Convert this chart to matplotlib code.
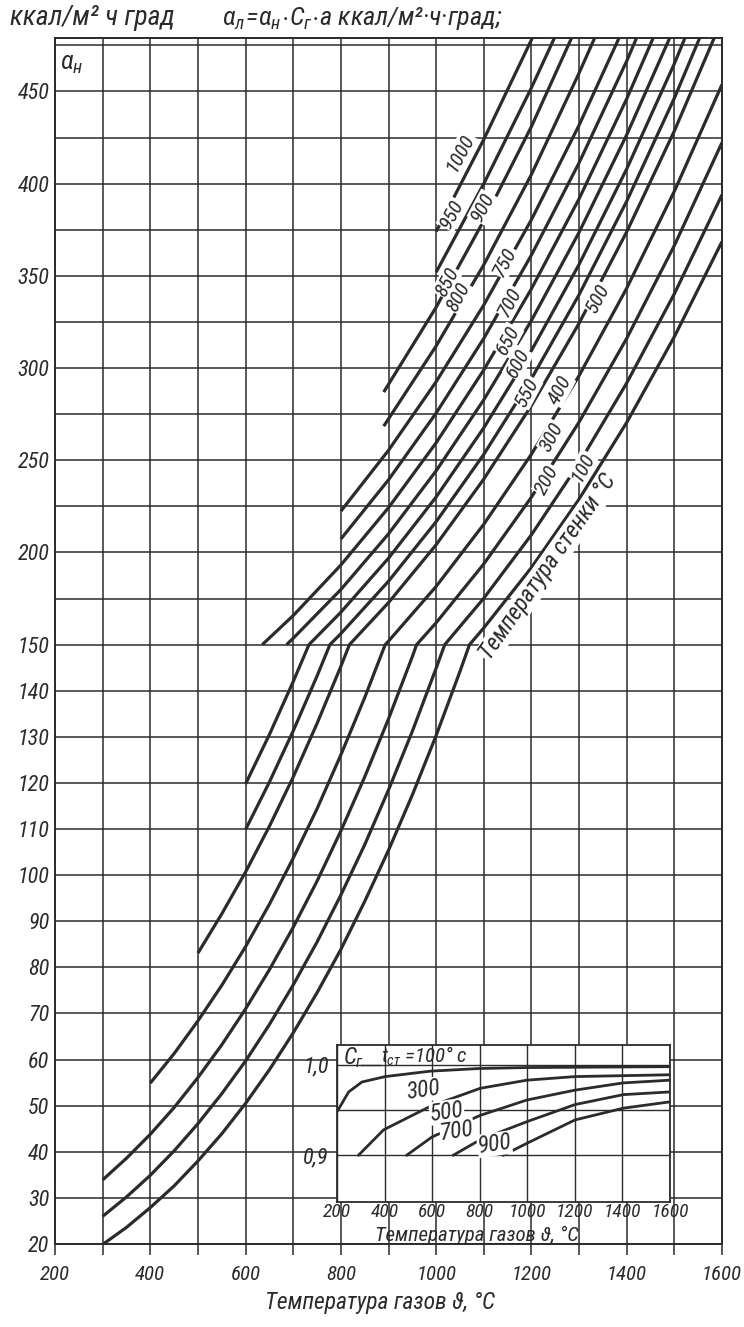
import numpy as np
import matplotlib
matplotlib.use("Agg")
import matplotlib.pyplot as plt
from matplotlib import font_manager

fl = font_manager.fontManager.ttflist
names = {f.name for f in fl}
STRETCH = 'normal'
if 'Liberation Sans Narrow' in names:
    NARROW = 'Liberation Sans Narrow'
elif 'Roboto Condensed' in names:
    NARROW = 'Roboto Condensed'
elif any(f.name == 'DejaVu Sans' and str(f.stretch) in ('condensed', 'semi-condensed') for f in fl):
    NARROW = 'DejaVu Sans'
    STRETCH = 'condensed'
else:
    NARROW = 'DejaVu Sans'
FAM = [NARROW, 'DejaVu Sans']
plt.rcParams['font.family'] = FAM
plt.rcParams['font.style'] = 'italic'
plt.rcParams['font.stretch'] = STRETCH
plt.rcParams['mathtext.fontset'] = 'custom'
plt.rcParams['mathtext.rm'] = NARROW + ':italic'
plt.rcParams['mathtext.it'] = NARROW + ':italic'

# ---------------- data (gas temperature T, alpha_n) per wall temperature ----
T_100 = [300, 350, 400, 450, 500, 550, 600, 650, 700, 750, 800, 850, 900, 950, 1000, 1050, 1070, 1100, 1200, 1300, 1400, 1500, 1600]
A_100 = [19.9, 23.6, 27.9, 32.6, 38.0, 43.9, 50.5, 57.8, 65.8, 74.5, 83.9, 94.3, 105.4, 117.4, 130.3, 144.2, 150.0, 159.1, 191.8, 228.9, 270.5, 317.0, 368.6]
T_200 = [300, 350, 400, 450, 500, 550, 600, 650, 700, 750, 800, 850, 900, 950, 1000, 1018, 1100, 1200, 1300, 1400, 1500, 1600]
A_200 = [26.0, 30.2, 34.9, 40.2, 46.1, 52.6, 59.7, 67.6, 76.2, 85.5, 95.7, 106.6, 118.5, 131.2, 144.9, 150.0, 175.2, 209.6, 248.4, 291.9, 340.3, 394.0]
T_300 = [300, 350, 400, 450, 500, 550, 600, 650, 700, 750, 800, 850, 900, 950, 959, 1000, 1100, 1200, 1300, 1400, 1500, 1600]
A_300 = [33.9, 38.6, 43.8, 49.6, 56.1, 63.2, 71.0, 79.5, 88.7, 98.7, 109.6, 121.3, 133.9, 147.4, 150.0, 161.9, 193.8, 230.0, 270.7, 316.1, 366.5, 422.3]
T_400 = [400, 450, 500, 550, 600, 650, 700, 750, 800, 850, 893, 900, 1000, 1100, 1200, 1300, 1400, 1500, 1600]
A_400 = [54.9, 61.3, 68.4, 76.1, 84.5, 93.7, 103.7, 114.4, 126.1, 138.5, 150.0, 151.9, 181.6, 215.3, 253.3, 295.9, 343.3, 395.9, 453.8]
T_500 = [500, 550, 600, 650, 700, 750, 800, 818, 900, 1000, 1100, 1200, 1300, 1400, 1500, 1600]
A_500 = [83.1, 91.6, 100.7, 110.6, 121.3, 132.9, 145.3, 150.0, 172.8, 204.2, 239.8, 279.7, 324.3, 373.9, 428.6, 488.9]
T_550 = [600, 650, 700, 750, 777, 800, 900, 1000, 1100, 1200, 1300, 1400, 1500, 1600]
A_550 = [109.9, 120.2, 131.3, 143.2, 150.0, 156.0, 184.4, 216.7, 253.2, 294.2, 339.8, 390.5, 446.4, 507.8]
T_600 = [600, 650, 700, 733, 800, 900, 1000, 1100, 1200, 1300, 1400, 1500, 1600]
A_600 = [119.8, 130.5, 142.0, 150.0, 167.6, 196.9, 230.1, 267.6, 309.5, 356.2, 408.0, 465.1, 527.7]
T_650 = [686, 700, 800, 900, 1000, 1100, 1200, 1300, 1400, 1500]
A_650 = [150.0, 153.5, 179.9, 210.1, 244.3, 282.8, 325.8, 373.6, 426.5, 484.7]
T_700 = [635, 700, 800, 900, 1000, 1100, 1200, 1300, 1400, 1500]
A_700 = [150.0, 165.8, 193.2, 224.3, 259.5, 299.0, 343.0, 391.8, 446.0, 505.4]
T_750 = [800, 900, 1000, 1100, 1200, 1300, 1400, 1500]
A_750 = [207.3, 239.4, 275.6, 316.1, 361.3, 411.3, 466.5, 527.2]
T_800 = [800, 900, 1000, 1100, 1200, 1300, 1400]
A_800 = [222.4, 255.4, 292.6, 334.2, 380.5, 431.7, 488.1]
T_850 = [890, 1000, 1100, 1200, 1300, 1400]
A_850 = [268.5, 312.0, 356.0, 405.0, 460.0, 518.0]
T_900 = [890, 1000, 1100, 1200, 1300]
A_900 = [287.0, 333.0, 380.0, 431.0, 488.0]
T_950 = [1000, 1100, 1200, 1300]
A_950 = [352.0, 400.0, 452.0, 508.0]
T_1000 = [1000, 1100, 1200, 1300]
A_1000 = [374.0, 424.0, 478.0, 535.0]

# curve labels: (text, gas T, alpha)
LBL_TEXT = ['1000', '950', '900', '850', '800', '750', '700', '650', '600', '550', '500', '400', '300', '200', '100']
LBL_T = [1050, 1033, 1098, 1023, 1046, 1145, 1155, 1151, 1172, 1191, 1340, 1260, 1243, 1233, 1308]
LBL_A = [416.7, 383.5, 387.3, 346.7, 338.6, 357.5, 335.8, 315.2, 302.7, 287.0, 338.0, 288.1, 262.7, 239.3, 246.3]

# inset: correction factor C_g vs gas temperature
IN_T_100 = [200, 249, 305, 403, 592, 802, 1000, 1600]
IN_C_100 = [0.948, 0.970, 0.981, 0.987, 0.993, 0.996, 0.997, 0.998]
IN_T_300 = [291, 396, 592, 802, 998, 1201, 1600]
IN_C_300 = [0.900, 0.928, 0.954, 0.974, 0.983, 0.987, 0.989]
IN_T_500 = [494, 599, 802, 998, 1201, 1404, 1600]
IN_C_500 = [0.900, 0.920, 0.944, 0.961, 0.972, 0.980, 0.983]
IN_T_700 = [690, 802, 998, 1201, 1404, 1600]
IN_C_700 = [0.900, 0.917, 0.937, 0.956, 0.967, 0.970]
IN_T_900 = [900, 998, 1201, 1404, 1600]
IN_C_900 = [0.900, 0.913, 0.939, 0.952, 0.959]
IN_LBL = ['300', '500', '700', '900']
IN_LBL_T = [561, 662, 704, 862]
IN_LBL_C = [0.972, 0.948, 0.927, 0.912]

X_TICKS = [200, 400, 600, 800, 1000, 1200, 1400, 1600]
Y_TICKS = [20, 30, 40, 50, 60, 70, 80, 90, 100, 110, 120, 130, 140, 150, 200, 250, 300, 350, 400, 450]
Y_MINOR = [175, 225, 275, 325, 375, 425, 475]

CURVES = [(T_100, A_100), (T_200, A_200), (T_300, A_300), (T_400, A_400), (T_500, A_500),
          (T_550, A_550), (T_600, A_600), (T_650, A_650), (T_700, A_700), (T_750, A_750),
          (T_800, A_800), (T_850, A_850), (T_900, A_900), (T_950, A_950), (T_1000, A_1000)]
INSET = [(IN_T_100, IN_C_100), (IN_T_300, IN_C_300), (IN_T_500, IN_C_500),
         (IN_T_700, IN_C_700), (IN_T_900, IN_C_900)]


def fwd(a):
    a = np.asarray(a, float)
    return np.where(a <= 150, (a - 20) / 10.0, 13 + (a - 150) / 25.0)


def inv(u):
    u = np.asarray(u, float)
    return np.where(u <= 13, 20 + 10 * u, 150 + 25 * (u - 13))


INK = '#2b2b2b'
W, H = 744, 1327
fig = plt.figure(figsize=(W / 100, H / 100), dpi=100)
fig.patch.set_facecolor('white')


def fx(px):
    return px / W


def fy(py):
    return 1 - py / H


ax = fig.add_axes([fx(55), fy(1244), fx(722) - fx(55), fy(38) - fy(1244)])
ax.set_yscale('function', functions=(fwd, inv))
ax.set_xlim(200, 1600)
ax.set_ylim(20, 479)
ax.set_xticks(X_TICKS)
ax.set_xticks([t for t in range(300, 1600, 100) if t not in X_TICKS], minor=True)
ax.set_yticks(Y_TICKS)
ax.set_yticks(Y_MINOR, minor=True)
ax.set_yticklabels([str(v) for v in Y_TICKS])
ax.yaxis.set_minor_formatter(plt.NullFormatter())
ax.grid(True, which='both', color=INK, lw=1.1)
ax.tick_params(axis='x', which='both', direction='out', length=8, width=1.1, color=INK,
               labelsize=15, pad=7, labelcolor=INK)
ax.tick_params(axis='y', which='both', length=0, labelsize=16, pad=4, labelcolor=INK)
for s in ax.spines.values():
    s.set_color(INK)
    s.set_linewidth(1.4)

for T, A in CURVES:
    ax.plot(T, A, color=INK, lw=2.3, solid_capstyle='butt', zorder=3)

for txt, t, a in zip(LBL_TEXT, LBL_T, LBL_A):
    ax.text(t, a, txt, fontsize=15, rotation=62, ha='center', va='center', color=INK,
            zorder=4, bbox=dict(facecolor='white', edgecolor='none', pad=0.5))

ax.text(1235, 192, 'Температура стенки °C', fontsize=17, rotation=55, ha='center', va='center',
        color=INK, zorder=4, bbox=dict(facecolor='white', edgecolor='none', pad=0.5))
ax.text(210, 465, r'$\alpha_{н}$', fontsize=19, ha='left', va='center', color=INK)

fig.text(fx(10), fy(18), 'ккал/м² ч град', fontsize=20, ha='left', va='center', color=INK)
fig.text(fx(222), fy(18), r'$\alpha_{л}\!=\!\alpha_{н}\!\cdot\! C_{г}\!\cdot\! a$ ккал/м²·ч·град;',
         fontsize=19, ha='left', va='center', color=INK)
fig.text(fx(380), fy(1303), 'Температура газов ϑ, °C', fontsize=17, ha='center', va='center', color=INK)

# ---------------- inset -----------------
ai = fig.add_axes([fx(337), fy(1202), fx(670) - fx(337), fy(1045) - fy(1202)])
ai.set_zorder(5)
ai.set_facecolor('white')
ai.set_xlim(200, 1600)
ai.set_ylim(0.848, 1.022)
ai.set_xticks(X_TICKS)
ai.set_yticks([0.9, 0.95, 1.0])
ai.set_yticklabels(['0,9', '', '1,0'])
ai.grid(True, color=INK, lw=1.0)
ai.tick_params(axis='x', length=0, labelsize=14, labelcolor=INK, pad=1)
ai.tick_params(axis='y', length=0, labelsize=16, labelcolor=INK, pad=6)
for s in ai.spines.values():
    s.set_color(INK)
    s.set_linewidth(1.3)
for T, C in INSET:
    ai.plot(T, C, color=INK, lw=2.0, zorder=3)
ai.text(225, 1.008, r'$C_{г}$', fontsize=17, ha='left', va='center', color=INK)
ai.plot([300, 380], [1.0, 1.0], color=INK, lw=1.0)
ai.text(385, 1.009, r'$t_{ст}$ =100° c', fontsize=15, ha='left', va='center', color=INK)
for txt, t, c in zip(IN_LBL, IN_LBL_T, IN_LBL_C):
    ai.text(t, c, txt, fontsize=17, rotation=8, ha='center', va='center', color=INK,
            bbox=dict(facecolor='white', edgecolor='none', pad=0.2))
fig.text(fx(477), fy(1235), 'Температура газов ϑ, °C', fontsize=15, ha='center', va='center',
         color=INK, zorder=6)

fig.savefig('out.png', dpi=100, facecolor='white')
